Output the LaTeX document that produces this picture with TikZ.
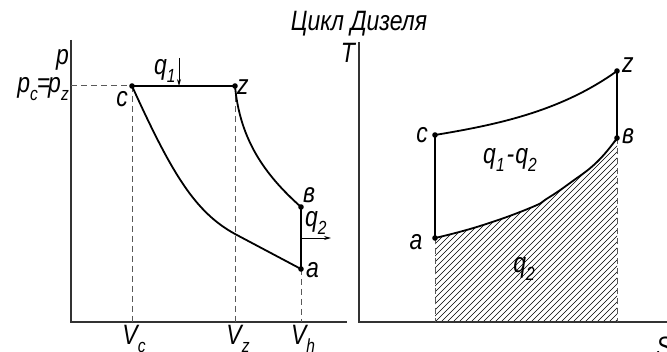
\documentclass[tikz,border=0pt]{standalone}
\usepackage{fontspec}
\setmainfont{Liberation Sans}
\newfontfamily\lblfont{Liberation Sans}[FakeStretch=0.82]
\usetikzlibrary{arrows.meta}
\newcommand\sbs[1]{\raisebox{-0.28em}{\fontsize{19}{20}\selectfont #1}}
\begin{document}
\begin{tikzpicture}[x=1pt,y=-1pt,
  lbl/.style={font=\lblfont\itshape\fontsize{28}{30}\selectfont, inner sep=0pt},
  ttl/.style={font=\lblfont\itshape\fontsize{28}{30}\selectfont, inner sep=0pt},
  curve/.style={line width=1.8pt, black},
  axis/.style={line width=1.1pt, black!80},
  guide/.style={dash pattern=on 6pt off 4pt, black!65, line width=1pt},
  hatch/.style={line width=0.6pt, black},
  heat/.style={line width=0.8pt, black, -{Stealth[length=7pt,width=4pt]}},
  pt/.style={fill=black}]
\clip (0,0) rectangle (667,352);
% ---------- left p-V diagram ----------
\coordinate (pTop) at (71,40);
\coordinate (O1) at (71,322);
\coordinate (vEnd) at (347,322);
\coordinate (c) at (132,86);
\coordinate (z) at (235,86);
\coordinate (b) at (301,207);
\coordinate (a) at (301,269);
\coordinate (m) at (235,234);
\coordinate (cx) at (132,322);
\coordinate (zx) at (235,322);
\coordinate (ax) at (301,322);
\coordinate (cy) at (71,86);
\draw[axis] (pTop) -- (O1) -- (vEnd);
\draw[guide] (cy) -- (c);
\draw[guide] (c) -- (cx);
\draw[guide] (z) -- (zx);
\draw[guide] (a) -- (ax);
\draw[curve] (c) -- (z);
\draw[curve] (c) .. controls (172,174) and (195,212) .. (m) -- (a);
\draw[curve] (z) .. controls (240,140) and (265,175) .. (b);
\draw[curve] (b) -- (a);
\foreach \p in {c,z,b,a} \fill[pt] (\p) circle (2.8pt);
\coordinate (q1s) at (179,58);
\coordinate (q1e) at (179,86);
\draw[heat] (q1s) -- (q1e);
\coordinate (q2s) at (301,238);
\coordinate (q2e) at (331,238);
\draw[heat] (q2s) -- (q2e);
\node[lbl, anchor=base east] (lp) at (69,65) {p};
\node[lbl, anchor=base east] (lpcz) at (69,93) {p\sbs{c}\hspace{-1pt}=\hspace{-2pt}p\sbs{z}};
\node[lbl, anchor=base] (lc) at (122,107) {c};
\node[lbl, anchor=base west] (lz) at (237,95) {z};
\node[lbl, anchor=base west] (lq1) at (154,75) {q\sbs{1}};
\node[lbl, anchor=base west] (lb) at (303,203) {в};
\node[lbl, anchor=base west] (lq2) at (305,227) {q\sbs{2}};
\node[lbl, anchor=base west] (la) at (306,278) {a};
\node[lbl, anchor=base] (lvc) at (134,345) {V\sbs{c}};
\node[lbl, anchor=base] (lvz) at (238,345) {V\sbs{z}};
\node[lbl, anchor=base] (lvh) at (303,345) {V\sbs{h}};
% ---------- title ----------
\node[ttl, anchor=base] (title) at (359,31) {Цикл Дизеля};
% ---------- right T-S diagram ----------
\coordinate (tTop) at (359,42);
\coordinate (O2) at (359,322);
\coordinate (sEnd) at (667,322);
\coordinate (C) at (435,135);
\coordinate (Z) at (617,71);
\coordinate (B) at (617,138);
\coordinate (A) at (435,238);
\coordinate (Ax) at (435,322);
\coordinate (Bx) at (617,322);
\begin{scope}
\clip plot[smooth, tension=0.8] coordinates {(A) (480,226) (530,208) (548,198) (570,183) (597,162) (B)} -- (Bx) -- (Ax) -- cycle;
\foreach \i in {-198,-192,...,198} \draw[hatch] (435+\i,322) -- ++(200,-200);
\end{scope}
\draw[axis] (tTop) -- (O2) -- (sEnd);
\draw[guide] (A) -- (Ax);
\draw[guide] (B) -- (Bx);
\draw[curve] (C) .. controls (495,125) and (560,112) .. (Z);
\draw[curve] (Z) -- (B);
\draw[curve] (C) -- (A);
\draw[curve] plot[smooth, tension=0.8] coordinates {(A) (480,226) (530,208) (548,198) (570,183) (597,162) (B)};
\foreach \p in {C,Z,B,A} \fill[pt] (\p) circle (2.8pt);
\node[lbl, anchor=base] (lT) at (348,63) {T};
\node[lbl, anchor=base] (lC) at (422,143) {c};
\node[lbl, anchor=base west] (lZ) at (622,73) {z};
\node[lbl, anchor=base west] (lB) at (622,144) {в};
\node[lbl, anchor=base] (lA) at (416,250) {a};
\node[lbl, anchor=base] (lq12) at (510,164) {q\sbs{1}\hspace{2pt}-\hspace{1pt}q\sbs{2}};
\node[lbl, anchor=base] (lq2r) at (524,273) {q\sbs{2}};
\node[lbl, anchor=base] (lS) at (664,357) {S};
\end{tikzpicture}
\end{document}
